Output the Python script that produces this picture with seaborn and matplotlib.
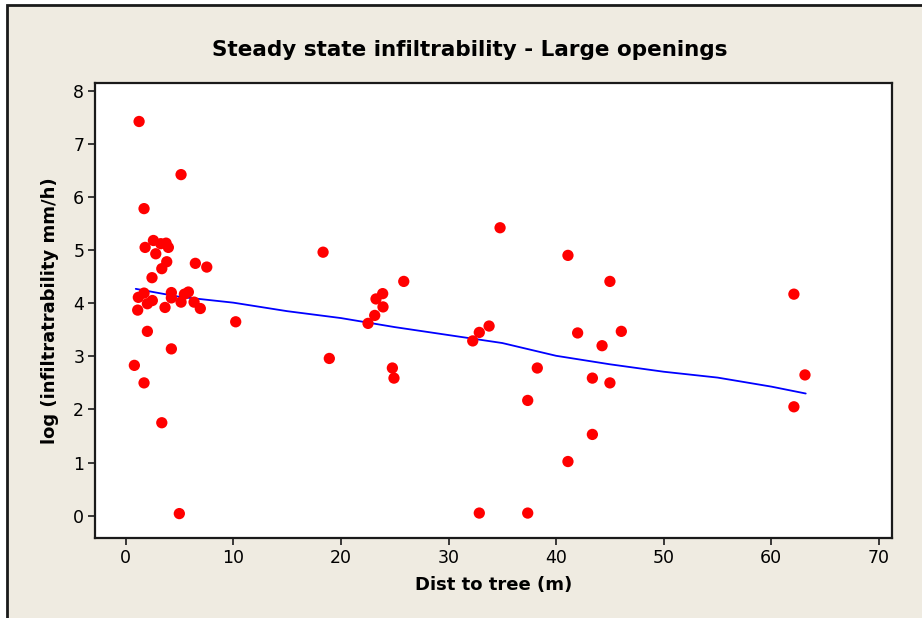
import matplotlib
matplotlib.use("Agg")
import matplotlib.pyplot as plt
from matplotlib.patches import Rectangle
import seaborn as sns
import pandas as pd

# Scatter data
dist = [1.24, 5.14, 1.70, 1.80, 2.57, 2.79, 3.25, 3.75, 3.96, 3.81, 3.35, 2.44,
        6.47, 7.53, 18.34,
        1.17, 1.70, 2.01, 2.47, 1.11, 3.65, 4.24, 4.24, 5.14, 5.45, 5.82, 6.35,
        6.93, 10.22, 18.92, 2.01, 4.24, 0.80, 1.70, 3.35, 4.98,
        34.79, 41.10, 25.84, 23.88, 23.26, 23.91, 23.14, 22.52, 24.78, 24.93,
        33.77, 32.86, 32.25, 42.00, 38.25, 43.37, 37.36, 43.37, 41.10, 32.86,
        37.36, 45.00, 46.06, 44.27, 45.00, 62.10, 63.13, 62.10]
loginf = [7.42, 6.42, 5.78, 5.05, 5.18, 4.93, 5.12, 5.13, 5.05, 4.78, 4.65, 4.48,
          4.75, 4.68, 4.96,
          4.11, 4.19, 3.99, 4.05, 3.87, 3.92, 4.20, 4.10, 4.02, 4.17, 4.21, 4.02,
          3.90, 3.65, 2.96, 3.47, 3.14, 2.83, 2.50, 1.75, 0.04,
          5.42, 4.90, 4.41, 4.18, 4.08, 3.93, 3.77, 3.62, 2.78, 2.59,
          3.57, 3.45, 3.29, 3.44, 2.78, 2.59, 2.17, 1.53, 1.02, 0.05,
          0.05, 4.41, 3.47, 3.20, 2.50, 4.17, 2.65, 2.05]

# Smoothed (lowess) curve
fit_x = [0.93, 5, 10, 15, 20, 25, 30, 35, 40, 45, 50, 55, 60, 63.2]
fit_y = [4.27, 4.12, 4.01, 3.85, 3.72, 3.55, 3.40, 3.25, 3.01, 2.85, 2.71, 2.60, 2.43, 2.30]

x_ticks = [0, 10, 20, 30, 40, 50, 60, 70]
y_ticks = [0, 1, 2, 3, 4, 5, 6, 7, 8]

title = "Steady state infiltrability - Large openings"
xlabel = "Dist to tree (m)"
ylabel = "log (infiltratrability mm/h)"

sns.set_style("ticks")
plt.rcParams['font.family'] = ['DejaVu Sans']
plt.rcParams['text.color'] = 'black'
plt.rcParams['axes.labelcolor'] = 'black'

W, H = 922, 618
fig = plt.figure(figsize=(W / 100, H / 100), dpi=100, facecolor="white")

# Beige panel with black top/left border
bg = Rectangle((7 / W, -0.05), 1.2, 1 - 5 / H + 0.05, transform=fig.transFigure,
               facecolor="#EFEBE1", edgecolor="#1a1a1a", linewidth=2, zorder=0)
fig.add_artist(bg)

ax = fig.add_axes([95.3 / W, 1 - 538.3 / H, (891.7 - 95.3) / W, (538.3 - 82.7) / H])
ax.set_facecolor("white")

df = pd.DataFrame({"dist": dist, "loginf": loginf})
fit = pd.DataFrame({"x": fit_x, "y": fit_y})

sns.lineplot(data=fit, x="x", y="y", ax=ax, color="#0000FF", linewidth=1.3, zorder=2)
sns.scatterplot(data=df, x="dist", y="loginf", ax=ax, color="#FF0000", s=66,
                edgecolor="none", linewidth=0, zorder=3)

ax.set_xlim(-2.83, 71.19)
ax.set_ylim(-0.425, 8.15)
ax.set_xticks(x_ticks)
ax.set_yticks(y_ticks)
ax.tick_params(axis="both", direction="out", length=5, width=1.2, color="#1a1a1a",
               labelsize=12.5, labelcolor="black", pad=3)
for s in ax.spines.values():
    s.set_visible(True)
    s.set_linewidth(1.6)
    s.set_color("#1a1a1a")

ax.set_xlabel(xlabel, fontsize=13, fontweight="bold", labelpad=6, color="black")
ax.set_ylabel(ylabel, fontsize=13, fontweight="bold", labelpad=10, color="black")
fig.text(470 / W, 1 - 50 / H, title, ha="center", va="center",
         fontsize=15.5, fontweight="bold", color="black")

fig.savefig("out.png", dpi=100, facecolor=fig.get_facecolor())
